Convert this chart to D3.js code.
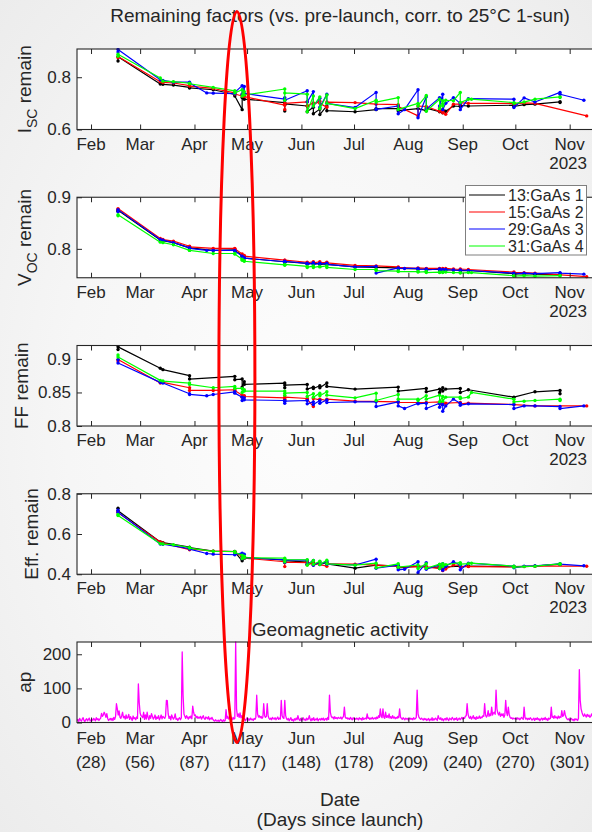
<!DOCTYPE html>
<html>
<head>
<meta charset="utf-8">
<script src="https://cdn.jsdelivr.net/npm/d3@7"></script>
<style>
  html, body { margin: 0; padding: 0; }
  body {
    width: 592px; height: 832px; overflow: hidden;
    background: radial-gradient(ellipse at 50% 50%, #fdfdfd 0%, #f6f6f6 55%, #ececec 100%);
  }
  svg { display: block; font-family: "Liberation Sans", Arial, sans-serif; }
</style>
</head>
<body>
<svg id="fig" width="592" height="832"></svg>
<script>
// ---- Time axis: days since launch (launch = 2023-01-04) ----
const xDomainDays = [20, 320];
const monthLabels = ["Feb", "Mar", "Apr", "May", "Jun", "Jul", "Aug", "Sep", "Oct", "Nov"];
const monthDays   = [28, 56, 87, 117, 148, 178, 209, 240, 270, 301];
const yearLabel = "2023";
const stormDay = 111.2;   // 2023-04-24 geomagnetic storm, highlighted

// ---- Cells ----
const cellNames  = ["13:GaAs 1", "15:GaAs 2", "29:GaAs 3", "31:GaAs 4"];
const cellColors = ["#000000", "#ff0000", "#0000ff", "#00ff00"];

// ---- Measurement passes (days since launch; repeated days = several sweeps that day) ----
const passDays = [
  43.4, 43.4, 67.5, 69.0, 75.0, 84.2, 84.2, 94.0, 97.7, 110.0,
  110.0, 114.2, 114.2, 115.4, 115.4, 138.5, 138.5, 138.5, 151.3, 151.3,
  154.8, 154.8, 158.5, 158.5, 162.5, 162.5, 178.6, 190.6, 190.6, 203.2,
  203.2, 206.8, 214.5, 214.5, 219.2, 219.2, 226.8, 226.8, 228.6, 228.6,
  230.3, 234.7, 238.6, 238.6, 243.2, 245.0, 269.2, 269.2, 275.0, 279.0,
  281.2, 295.5, 295.5, 309.1, 310.7
];

// ---- I_SC remaining factor ----
const iscGaAs1 = [
  0.862,0.878,0.774,0.773,0.770,0.761,0.759,null,0.752,0.734,
  0.728,0.676,0.722,0.730,0.716,0.703,0.671,0.698,0.690,0.668,
  0.685,0.660,0.678,0.657,0.690,0.672,0.668,0.676,0.680,0.680,
  0.672,null,0.680,null,0.672,0.682,0.668,0.678,0.664,0.676,
  0.670,0.690,0.688,0.692,0.690,null,0.693,0.688,0.695,null,
  0.697,0.706,0.703,null,null];
const iscGaAs2 = [
  0.875,0.879,0.783,0.780,0.778,0.768,0.766,null,0.757,0.740,
  0.736,0.728,0.735,0.731,0.726,0.693,0.677,0.700,0.706,0.690,
  0.702,0.695,0.708,0.700,0.685,0.705,0.703,0.697,null,0.695,
  0.688,null,0.652,0.690,0.688,null,0.670,0.682,0.664,0.672,
  0.658,0.697,0.697,0.703,0.700,null,0.700,0.697,0.702,null,
  0.700,null,null,null,0.652];
const iscGaAs3 = [
  0.897,0.906,0.790,0.788,0.781,0.781,0.778,0.740,0.739,0.737,
  0.742,0.768,0.735,0.765,0.738,0.716,0.722,0.712,0.748,0.705,
  0.745,0.690,0.720,0.685,0.735,0.700,0.684,0.742,0.677,0.690,
  0.660,0.676,0.752,0.645,0.725,0.678,0.722,0.690,0.735,0.676,
  0.700,0.722,0.700,0.676,0.718,null,0.716,0.684,0.721,null,
  0.705,0.742,0.735,0.712,null];
const iscGaAs4 = [
  0.880,0.888,0.797,0.785,0.783,0.777,0.775,null,0.761,0.748,
  0.740,0.752,0.728,0.745,0.732,0.755,0.712,0.740,0.735,0.668,
  0.728,0.690,0.725,0.680,0.732,0.700,0.680,0.712,0.705,0.722,
  0.677,null,0.700,0.690,0.730,0.670,0.716,0.680,0.710,0.690,
  0.712,0.710,0.742,0.703,0.716,0.716,0.703,0.700,0.705,null,
  0.716,0.725,0.722,null,null];

// ---- V_OC remaining factor ----
const vocGaAs1 = [
  0.873,0.875,0.817,0.816,0.812,0.802,0.802,null,0.797,0.798,
  0.797,0.787,0.785,0.784,0.782,0.775,0.774,0.775,0.772,0.771,
  0.772,0.771,0.772,0.770,0.771,0.770,0.765,0.764,null,0.763,
  0.762,null,0.761,null,0.761,0.760,0.760,0.759,0.760,0.759,
  0.759,0.759,0.758,0.758,0.758,null,0.752,0.751,0.752,null,
  0.751,0.750,0.750,null,null];
const vocGaAs2 = [
  0.876,0.878,0.820,0.818,0.815,0.805,0.804,null,0.801,0.801,
  0.800,0.790,0.788,0.787,0.786,0.778,0.777,0.778,0.774,0.773,
  0.775,0.773,0.775,0.773,0.774,0.773,0.768,0.767,null,0.765,
  0.764,null,0.762,0.763,0.762,null,0.762,0.761,0.762,0.761,
  0.762,0.761,0.760,0.761,0.760,null,0.755,0.754,0.754,null,
  0.753,null,null,null,0.746];
const vocGaAs3 = [
  0.872,0.876,0.818,0.817,0.812,0.802,0.801,0.797,0.797,0.797,
  0.796,0.786,0.784,0.783,0.782,0.775,0.774,0.776,0.772,0.770,
  0.773,0.770,0.772,0.771,0.772,0.770,0.765,0.766,0.753,0.763,
  0.762,0.762,0.762,0.760,0.761,0.759,0.761,0.759,0.760,0.758,
  0.760,0.759,0.758,0.759,0.758,null,0.753,0.752,0.753,null,
  0.752,0.754,0.753,0.751,null];
const vocGaAs4 = [
  0.864,0.866,0.813,0.812,0.808,0.797,0.797,null,0.791,0.791,
  0.790,0.780,0.778,0.777,0.776,0.769,0.768,0.770,0.766,0.764,
  0.767,0.764,0.766,0.765,0.767,0.764,0.760,0.760,0.758,0.757,
  0.756,null,0.756,0.755,0.756,0.754,0.755,0.754,0.755,0.754,
  0.755,0.754,0.754,0.753,0.754,0.754,0.748,0.747,0.748,null,
  0.747,0.748,0.748,null,null];

// ---- Fill factor remaining ----
const ffGaAs1 = [
  0.914,0.918,0.886,0.884,null,0.875,0.870,null,null,0.874,
  0.869,0.870,0.858,0.866,0.862,0.864,0.857,0.861,0.862,0.855,
  0.858,0.856,0.860,0.857,0.864,0.859,0.855,null,null,0.858,
  0.852,null,null,null,0.856,0.851,0.855,0.850,0.857,0.852,
  0.855,null,0.856,0.850,0.854,null,0.843,null,null,null,
  0.851,0.853,0.848,null,null];
const ffGaAs2 = [
  0.897,0.899,0.864,0.865,null,0.857,0.853,null,0.853,0.854,
  0.853,0.846,0.843,0.845,0.844,0.842,0.840,0.843,0.841,0.840,
  0.829,0.841,0.839,0.840,0.838,0.840,0.837,null,null,0.836,
  0.835,null,null,null,0.835,null,0.836,0.833,0.835,0.832,
  0.834,null,0.835,0.833,0.834,null,0.832,null,null,null,
  0.830,null,null,null,0.830];
const ffGaAs3 = [
  0.899,0.894,0.865,0.864,null,0.848,0.847,0.845,0.847,0.851,
  0.849,0.843,0.838,0.842,0.839,0.838,0.834,0.837,0.838,0.833,
  0.836,0.832,0.838,0.834,0.839,0.835,0.836,0.836,0.829,0.836,
  0.830,0.826,0.834,0.833,0.834,0.826,0.834,0.828,0.832,0.822,
  0.830,0.840,0.834,0.831,0.833,null,0.832,0.826,0.830,null,
  0.830,0.829,0.826,0.830,null];
const ffGaAs4 = [
  0.906,0.903,0.868,0.867,null,0.864,0.862,null,0.857,0.859,
  0.856,0.856,0.850,0.854,0.852,0.852,0.846,0.849,0.850,0.844,
  0.848,0.843,0.849,0.845,0.851,0.846,0.842,0.849,0.838,0.847,
  0.840,null,0.840,0.838,0.845,0.840,0.846,0.836,0.844,0.837,
  0.843,null,0.843,0.841,0.843,0.850,0.840,0.836,0.837,null,
  0.838,0.840,0.838,null,null];

// ---- Efficiency remaining ----
const effGaAs1 = [
  0.728,0.715,0.560,0.557,null,0.535,0.532,null,0.515,0.513,
  0.511,0.467,0.490,0.480,0.484,0.470,0.458,0.468,0.460,0.450,
  0.458,0.448,0.456,0.450,0.458,0.452,0.430,0.445,null,0.440,
  0.432,null,0.440,null,0.438,0.432,0.437,0.430,0.438,0.433,
  0.436,null,0.440,0.438,0.440,null,0.438,null,null,null,
  0.440,0.450,0.448,null,null];
const effGaAs2 = [
  0.712,0.705,0.560,0.555,null,0.522,0.526,null,0.515,0.512,
  0.510,0.488,0.482,0.486,0.480,0.462,0.438,0.460,0.458,0.448,
  0.455,0.446,0.454,0.448,0.440,0.452,0.450,0.445,null,0.440,
  0.436,null,0.438,null,0.437,null,0.428,0.436,0.418,0.432,
  0.426,0.446,0.444,0.438,0.438,null,0.437,null,0.438,null,
  0.440,null,null,null,0.440];
const effGaAs3 = [
  0.718,0.708,0.550,0.549,null,0.527,0.525,0.503,0.500,0.497,
  0.500,0.505,0.478,0.500,0.482,0.472,0.460,0.470,0.470,0.450,
  0.468,0.445,0.462,0.448,0.465,0.450,0.446,0.475,0.430,0.445,
  0.422,0.425,0.462,0.408,0.458,0.425,0.448,0.428,0.452,0.420,
  0.440,0.462,0.445,0.422,0.455,null,0.440,0.432,0.440,null,
  0.442,0.452,0.450,0.442,null];
const effGaAs4 = [
  0.697,0.692,0.552,0.550,0.547,0.533,0.530,null,0.514,0.513,
  0.508,0.495,0.478,0.490,0.482,0.480,0.462,0.472,0.472,0.445,
  0.468,0.450,0.465,0.448,0.470,0.452,0.445,0.455,0.432,0.452,
  0.435,null,0.446,0.428,0.452,0.430,0.450,0.428,0.452,0.438,
  0.448,null,0.458,0.450,0.453,0.455,0.440,0.435,0.438,null,
  0.440,0.452,0.450,null,null];

// ---- Geomagnetic ap index, half-day samples from day 20 ----
const apStartDay = 20;
const apStepDays = 0.5;
const apValues = [
  5,9,3,12,7,4,10,14,6,3,8,11,5,9,13,4,7,10,6,12,
  9,5,14,8,11,6,10,13,27,18,22,30,24,15,26,12,6,9,12,7,
  12,6,15,9,18,55,40,22,34,16,12,20,30,14,18,10,22,12,15,24,
  9,17,12,6,19,11,14,8,16,12,113,58,28,20,18,14,30,9,22,10,
  30,15,8,20,12,26,18,10,14,22,9,16,12,20,8,14,22,11,18,15,
  12,18,65,64,25,12,18,8,22,15,10,14,25,9,12,6,11,14,8,13,
  207,80,25,18,12,20,15,10,17,13,19,11,48,30,20,22,14,18,12,16,
  13,18,10,15,20,12,9,16,14,11,17,8,13,10,15,9,6,4,8,5,
  4,7,3,6,9,5,3,8,4,6,38,12,18,10,15,20,11,8,15,10,
  12,236,40,18,25,15,28,14,20,10,8,12,5,9,14,6,11,7,13,8,
  10,6,12,9,15,80,25,16,20,14,18,12,16,55,20,15,18,55,20,12,
  9,13,8,15,11,10,14,8,12,16,9,13,10,65,20,14,12,65,20,11,
  8,12,5,10,14,6,9,4,11,7,13,8,20,10,6,12,5,9,14,7,
  10,6,13,8,11,20,9,5,12,7,14,6,10,8,13,5,9,11,7,12,
  8,13,6,10,12,7,15,9,80,30,18,14,16,10,17,12,14,11,15,13,
  12,16,10,14,18,45,16,12,14,10,13,9,15,11,8,14,10,12,9,13,
  11,8,14,10,12,7,15,9,11,13,10,25,12,14,9,13,11,15,10,12,
  14,10,16,12,20,15,40,18,14,40,16,12,30,15,20,14,25,13,17,12,
  20,13,16,11,15,12,18,14,40,16,12,9,14,11,8,13,10,12,7,11,
  13,9,12,8,14,10,11,15,95,25,16,12,9,13,10,7,12,8,11,6,
  9,12,5,10,7,14,6,11,8,13,10,6,20,12,9,14,7,11,5,10,
  12,7,14,9,6,13,10,8,15,11,7,12,9,14,6,10,13,8,11,15,
  10,14,12,18,20,55,25,16,12,18,10,14,20,11,15,9,17,12,13,19,
  12,16,14,20,18,55,22,16,20,35,18,25,20,45,22,28,30,24,95,40,
  28,22,30,18,25,20,26,15,22,65,30,20,45,24,15,12,14,10,13,11,
  12,9,14,10,13,8,11,15,12,9,45,15,10,13,8,12,9,14,11,7,
  10,13,6,12,9,14,8,11,5,10,13,7,12,9,15,8,11,6,13,10,
  12,45,15,18,12,20,14,16,11,19,13,17,15,35,18,20,35,22,14,10,
  8,11,6,10,12,7,9,5,11,8,10,6,12,155,65,40,30,22,18,25,
  20,16,24,18,22,15,19,25,17,21,14,22,18,16,20,24,15,19,23,17,
  18
];

// ---- Layout ----
const plotLeft = 77, plotRight = 603;
const panelTops = [49, 197.25, 345.5, 493.75, 642];
const panelH = 80.5;
const ink = "#262626";

const panels = [
  { label: [["I", 0], ["SC", 1], [" remain", 0]], labelX: 31, domain: [0.6, 0.908], ticks: [0.6, 0.8],
    series: [iscGaAs1, iscGaAs2, iscGaAs3, iscGaAs4] },
  { label: [["V", 0], ["OC", 1], [" remain", 0]], labelX: 31, domain: [0.744, 0.9], ticks: [0.8, 0.9],
    series: [vocGaAs1, vocGaAs2, vocGaAs3, vocGaAs4] },
  { label: [["FF remain", 0]], labelX: 28, domain: [0.8, 0.92], ticks: [0.8, 0.85, 0.9],
    series: [ffGaAs1, ffGaAs2, ffGaAs3, ffGaAs4] },
  { label: [["Eff. remain", 0]], labelX: 38, domain: [0.4, 0.8], ticks: [0.4, 0.6, 0.8],
    series: [effGaAs1, effGaAs2, effGaAs3, effGaAs4] }
];

const svg = d3.select("#fig");
const x = d3.scaleLinear().domain(xDomainDays).range([plotLeft, plotRight]);
const fmtTick = d => String(d);

function frame(g, y, top, yTicks) {
  const bottom = top + panelH;
  g.append("g").attr("transform", `translate(0,${bottom})`)
    .call(d3.axisBottom(x).tickValues(monthDays).tickSizeInner(-5).tickSizeOuter(0).tickFormat(""));
  g.append("g").attr("transform", `translate(0,${top})`)
    .call(d3.axisTop(x).tickValues(monthDays).tickSizeInner(-5).tickSizeOuter(0).tickFormat(""));
  g.append("g").attr("transform", `translate(${plotLeft},0)`)
    .call(d3.axisLeft(y).tickValues(yTicks).tickSizeInner(-5).tickSizeOuter(0).tickPadding(6).tickFormat(fmtTick));
  g.append("g").attr("transform", `translate(${plotRight},0)`)
    .call(d3.axisRight(y).tickValues(yTicks).tickSizeInner(-5).tickSizeOuter(0).tickFormat(""));
  g.selectAll(".domain").remove();
  g.selectAll(".tick line").attr("stroke", ink).attr("stroke-width", 1);
  g.selectAll(".tick text").attr("fill", ink).style("font-size", "17px")
    .style("font-family", '"Liberation Sans", Arial, sans-serif');
  g.append("rect")
    .attr("x", plotLeft).attr("y", top).attr("width", plotRight - plotLeft).attr("height", panelH)
    .attr("fill", "none").attr("stroke", ink).attr("stroke-width", 1.1);
}

function clipFor(id, top) {
  svg.append("defs").append("clipPath").attr("id", id)
    .append("rect").attr("x", plotLeft).attr("y", top - 1)
    .attr("width", plotRight - plotLeft).attr("height", panelH + 2);
  return `url(#${id})`;
}

// ---- Remaining-factor panels ----
panels.forEach((p, i) => {
  const top = panelTops[i], bottom = top + panelH;
  const y = d3.scaleLinear().domain(p.domain).range([bottom, top]);
  const g = svg.append("g");
  g.append("rect").attr("x", plotLeft).attr("y", top)
    .attr("width", plotRight - plotLeft).attr("height", panelH).attr("fill", "#ffffff");

  const dataG = g.append("g").attr("clip-path", clipFor("clip" + i, top));
  p.series.forEach((vals, s) => {
    const pts = passDays.map((d, k) => [d, vals[k]]).filter(q => q[1] !== null);
    dataG.append("path")
      .attr("d", d3.line().x(q => x(q[0])).y(q => y(q[1]))(pts))
      .attr("fill", "none").attr("stroke", cellColors[s]).attr("stroke-width", 1.2)
      .attr("stroke-linejoin", "round");
    dataG.selectAll(null).data(pts).join("circle")
      .attr("cx", q => x(q[0])).attr("cy", q => y(q[1])).attr("r", 1.7)
      .attr("fill", cellColors[s]);
  });

  frame(g, y, top, p.ticks);

  // month labels + year
  g.selectAll(null).data(monthDays).join("text")
    .attr("x", d => x(d)).attr("y", bottom + 20)
    .attr("text-anchor", "middle").attr("fill", ink).style("font-size", "17px")
    .text((d, k) => monthLabels[k]);
  g.append("text").attr("x", 587).attr("y", bottom + 39)
    .attr("text-anchor", "end").attr("fill", ink).style("font-size", "17px").text(yearLabel);

  // y label
  const lab = g.append("text")
    .attr("transform", `translate(${p.labelX},${top + panelH / 2}) rotate(-90)`)
    .attr("text-anchor", "middle").attr("fill", ink).style("font-size", "19px");
  p.label.forEach(([t, sub], k) => {
    const ts = lab.append("tspan").text(t);
    if (sub) ts.attr("dy", 6).style("font-size", "14px");
    else if (k > 0 && p.label[k - 1][1]) ts.attr("dy", -6);
  });
});

// ---- Title ----
svg.append("text").attr("x", 340).attr("y", 22).attr("text-anchor", "middle")
  .attr("fill", ink).style("font-size", "19px")
  .text("Remaining factors (vs. pre-launch, corr. to 25\u00B0C 1-sun)");

// ---- Legend ----
const leg = svg.append("g");
leg.append("rect").attr("x", 465.5).attr("y", 185.5).attr("width", 121).attr("height", 69.5)
  .attr("fill", "#ffffff").attr("stroke", "#7f7f7f").attr("stroke-width", 1);
cellNames.forEach((name, s) => {
  const cy = 195 + s * 17;
  leg.append("line").attr("x1", 469).attr("x2", 505).attr("y1", cy).attr("y2", cy)
    .attr("stroke", cellColors[s]).attr("stroke-width", 1.2);
  leg.append("text").attr("x", 508).attr("y", cy).attr("dy", "0.36em")
    .attr("fill", ink).style("font-size", "16px").text(name);
});

// ---- Geomagnetic activity panel ----
{
  const top = panelTops[4], bottom = top + panelH;
  const y = d3.scaleLinear().domain([0, 236]).range([bottom, top]);
  const g = svg.append("g");
  g.append("rect").attr("x", plotLeft).attr("y", top)
    .attr("width", plotRight - plotLeft).attr("height", panelH).attr("fill", "#ffffff");
  const pts = apValues.map((v, k) => [apStartDay + k * apStepDays, v]);
  g.append("g").attr("clip-path", clipFor("clipAp", top))
    .append("path")
    .attr("d", d3.line().x(q => x(q[0])).y(q => y(q[1]))(pts))
    .attr("fill", "none").attr("stroke", "#ff00ff").attr("stroke-width", 1.3)
    .attr("stroke-linejoin", "round");
  frame(g, y, top, [0, 100, 200]);

  g.selectAll(null).data(monthDays).join("text")
    .attr("x", d => x(d)).attr("y", bottom + 21)
    .attr("text-anchor", "middle").attr("fill", ink).style("font-size", "17px")
    .text((d, k) => monthLabels[k]);
  g.selectAll(null).data(monthDays).join("text")
    .attr("x", d => x(d)).attr("y", bottom + 45)
    .attr("text-anchor", "middle").attr("fill", ink).style("font-size", "17px")
    .text(d => `(${d})`);

  g.append("text").attr("transform", `translate(31,${top + panelH / 2}) rotate(-90)`)
    .attr("text-anchor", "middle").attr("fill", ink).style("font-size", "19px").text("ap");

  svg.append("text").attr("x", 340).attr("y", 636).attr("text-anchor", "middle")
    .attr("fill", ink).style("font-size", "19px").text("Geomagnetic activity");
  svg.append("text").attr("x", 340).attr("y", 806).attr("text-anchor", "middle")
    .attr("fill", ink).style("font-size", "19px").text("Date");
  svg.append("text").attr("x", 340).attr("y", 826).attr("text-anchor", "middle")
    .attr("fill", ink).style("font-size", "19px").text("(Days since launch)");
}

// ---- Highlight of the late-April storm ----
svg.append("ellipse")
  .attr("cx", x(stormDay)).attr("cy", 377).attr("rx", 18).attr("ry", 365.5)
  .attr("fill", "none").attr("stroke", "#ff0000").attr("stroke-width", 3);
</script>
</body>
</html>
